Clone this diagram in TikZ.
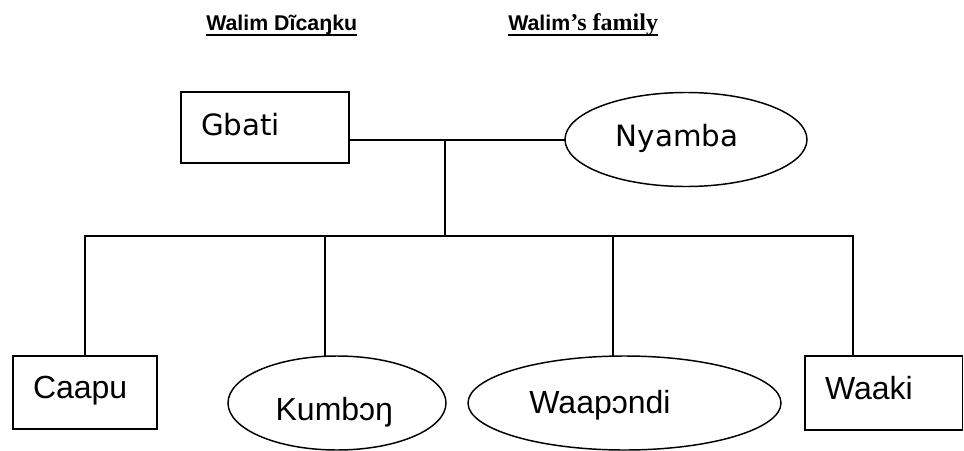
\documentclass[tikz,border=0pt]{standalone}
\usepackage{fontspec}
\setmainfont{Liberation Sans}
\newfontfamily\lucfont{DejaVu Sans}
\newfontfamily\timesfont{Liberation Serif}
\usepackage{tikz}
\usetikzlibrary{shapes.geometric}

\begin{document}
\begin{tikzpicture}[x=0.75pt, y=-0.75pt, line join=miter,
  member/.style={draw=black, line width=1.1pt},
  boxmember/.style={member, rectangle, inner xsep=15pt, inner ysep=0pt, text width=#1, align=left},
  ovalmember/.style={member, ellipse, inner sep=0pt, minimum height=70.5pt},
  link/.style={black, line width=1.5pt, line cap=rect},
  lucname/.style={font={\lucfont\fontsize{22pt}{26pt}\selectfont}},
  arialname/.style={font={\fontsize{24pt}{28pt}\selectfont}},
  headline/.style={font={\bfseries\fontsize{16pt}{19pt}\selectfont}}]
  \useasboundingbox (0,0) rectangle (964,450);
  % headings
  \node[headline, anchor=base west, inner sep=0pt] (dicanku) at (206,30) {Walim Dĩcaŋku};
  \node[anchor=base west, inner sep=0pt] (family) at (508,30)
    {{\bfseries\fontsize{16pt}{19pt}\selectfont Walim}{\timesfont\bfseries\fontsize{18pt}{21pt}\selectfont ’s family}};
  \draw[line width=1.5pt] ([yshift=-3.4pt]dicanku.base west) -- ([yshift=-3.4pt]dicanku.base east);
  \draw[line width=1.5pt] ([yshift=-3.4pt]family.base west) -- ([yshift=-3.4pt]family.base east);
  % parents
  \node[boxmember=96pt, lucname, minimum height=53.25pt, text height=16pt, text depth=4.75pt] (gbati) at (265,127.5) {Gbati};
  \node[ovalmember, lucname, minimum width=181.5pt, text height=15pt, text depth=5.25pt] (nyamba) at (686,139.5) {Nyamba\hspace*{13.5pt}};
  % children
  \node[boxmember=78pt, arialname, minimum height=54.75pt, text height=14pt, text depth=5.75pt] (caapu) at (85,392.5) {Caapu};
  \node[ovalmember, arialname, minimum width=163.5pt, text height=26pt, text depth=0.5pt] (kumbon) at (337,403) {Kumbɔŋ\hspace*{4pt}};
  \node[ovalmember, arialname, minimum width=234.75pt, text height=17pt, text depth=2pt] (waapondi) at (624.5,403) {Waapɔndi\hspace*{36.75pt}};
  \node[boxmember=88.1pt, arialname, minimum height=55.5pt, text height=14.5pt, text depth=5.5pt] (waaki) at (883.75,393) {Waaki};
  % lines
  \coordinate (drop) at (445,236);
  \coordinate (c1) at (85,236);
  \coordinate (c2) at (325,236);
  \coordinate (c3) at (613,236);
  \coordinate (c4) at (853,236);
  \draw[link] (gbati.east |- nyamba.west) -- (nyamba.west);
  \draw[link] (drop |- nyamba.west) -- (drop);
  \draw[link] (c1) -- (c4);
  \foreach \k/\n in {c1/caapu, c2/kumbon, c3/waapondi, c4/waaki}
    \draw[link] (\k) -- (\k |- \n.north);
\end{tikzpicture}
\end{document}
